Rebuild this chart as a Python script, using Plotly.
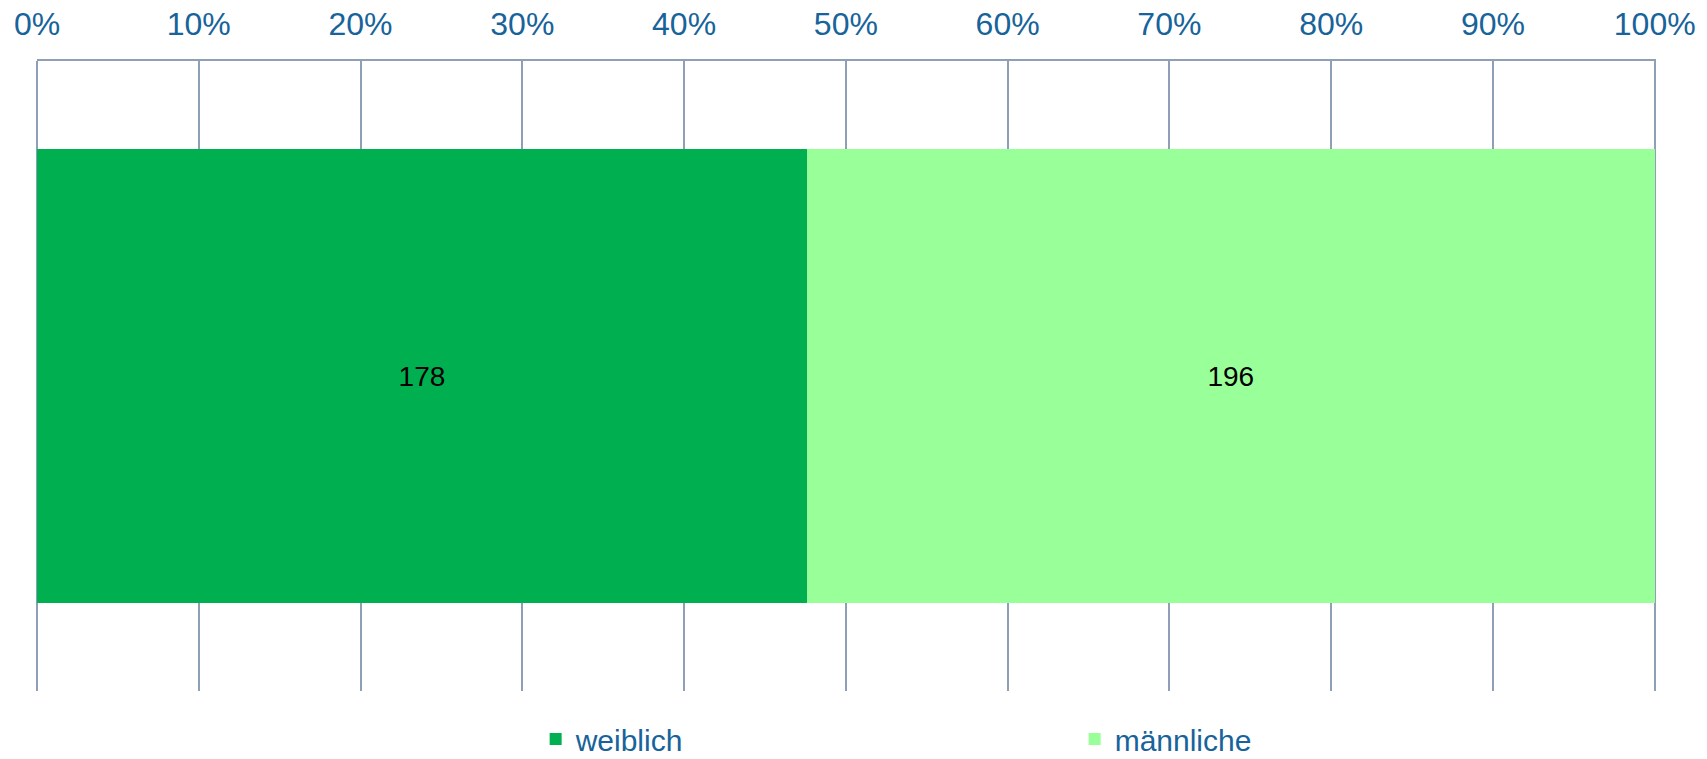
import plotly.graph_objects as go

categories = ["Gesamt"]
weiblich = [178]
maennliche = [196]
series_names = ["weiblich", "männliche"]
series_colors = ["#00B050", "#99FF99"]
tick_vals = [0, 10, 20, 30, 40, 50, 60, 70, 80, 90, 100]
tick_text = [f"{v}%" for v in tick_vals]

label_font = dict(family="Liberation Sans, Arial", size=28, color="#000000")
blue = "#17639A"
grid = "#8E9FB6"

fig = go.Figure()
for name, vals, col in zip(series_names, [weiblich, maennliche], series_colors):
    fig.add_trace(go.Bar(
        y=categories, x=vals, name=name, orientation="h",
        marker=dict(color=col, line=dict(width=0)),
        text=[str(v) for v in vals], textposition="inside",
        insidetextanchor="middle", textfont=label_font,
        hoverinfo="x+name",
    ))

fig.update_layout(
    barmode="stack", barnorm="percent", bargap=0.28,
    width=1707, height=759,
    margin=dict(l=37, r=51, t=61, b=68, autoexpand=False),
    paper_bgcolor="white", plot_bgcolor="white",
    showlegend=True,
    legend=dict(orientation="h", x=0.308, xanchor="left", y=-0.0761, yanchor="middle",
                font=dict(family="Liberation Sans, Arial", size=30, color=blue),
                entrywidth=494, entrywidthmode="pixels", traceorder="normal"),
    font=dict(family="Liberation Sans, Arial"),
)
fig.update_xaxes(
    side="top", range=[0, 100.08], tickvals=tick_vals, ticktext=tick_text,
    tickfont=dict(family="Liberation Sans, Arial", size=32, color=blue),
    showgrid=True, gridcolor=grid, gridwidth=1.5,
    zeroline=True, zerolinecolor=grid, zerolinewidth=1.5,
    showline=True, linecolor=grid, linewidth=1.5, mirror=False,
    ticks="", ticklabelstandoff=11, automargin=False,
)
fig.update_yaxes(showticklabels=False, showgrid=False, zeroline=False, showline=False,
                 automargin=False)

fig.write_html("out.html", config={"displayModeBar": False},
               post_script="document.body.style.margin='0';")
